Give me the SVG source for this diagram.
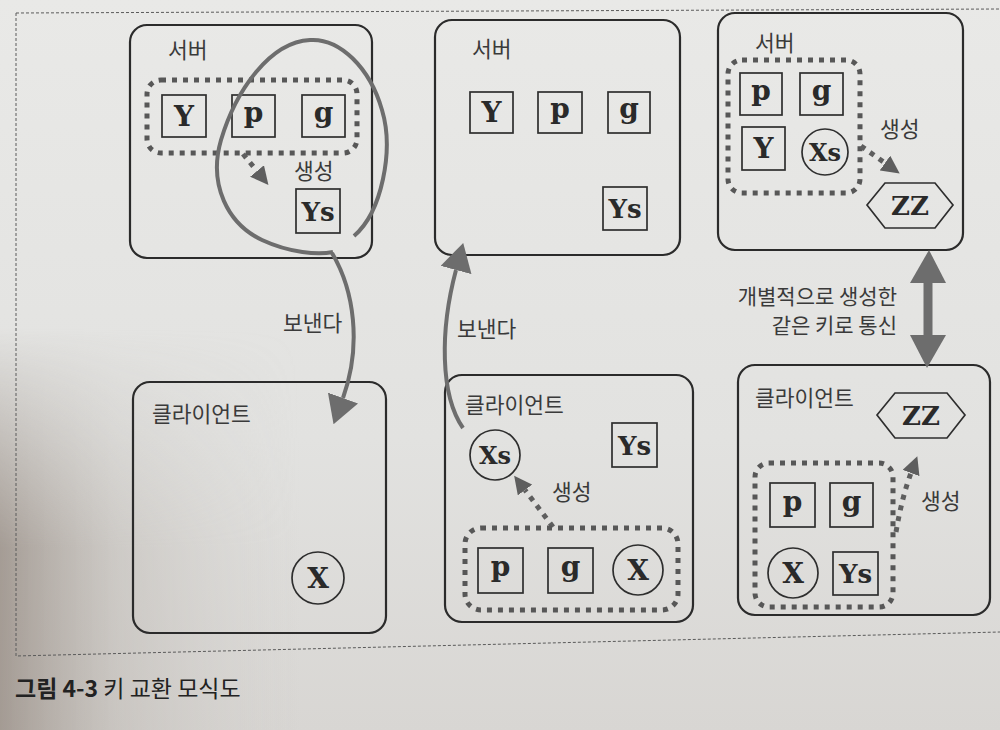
<svg xmlns="http://www.w3.org/2000/svg" width="1000" height="730" viewBox="0 0 1000 730">
<defs>
<linearGradient id="paper" x1="0" y1="0" x2="0" y2="1">
<stop offset="0" stop-color="#e9e9e7"/>
<stop offset="0.6" stop-color="#e2e2e0"/>
<stop offset="1" stop-color="#d8d6d3"/>
</linearGradient>
<linearGradient id="shade" x1="0" y1="0" x2="1" y2="0">
<stop offset="0" stop-color="#9a9088" stop-opacity="0.85"/>
<stop offset="0.12" stop-color="#b0a9a2" stop-opacity="0.35"/>
<stop offset="0.3" stop-color="#c8c4c0" stop-opacity="0"/>
</linearGradient>
<linearGradient id="shadeV" x1="0" y1="0" x2="0" y2="1">
<stop offset="0" stop-color="#fff" stop-opacity="0"/>
<stop offset="0.45" stop-color="#fff" stop-opacity="0"/>
<stop offset="0.75" stop-color="#fff" stop-opacity="1"/>
<stop offset="1" stop-color="#fff" stop-opacity="1"/>
</linearGradient>
<mask id="mV"><rect width="1000" height="730" fill="url(#shadeV)"/></mask>
<marker id="big" viewBox="0 0 10 10" refX="0" refY="5" markerWidth="28" markerHeight="32" markerUnits="userSpaceOnUse" orient="auto" preserveAspectRatio="none">
<path d="M0,0 L10,5 L0,10 z" fill="#6d6d6d"/>
</marker>
<marker id="small" viewBox="0 0 10 10" refX="0" refY="5" markerWidth="18" markerHeight="18" markerUnits="userSpaceOnUse" orient="auto" preserveAspectRatio="none">
<path d="M0,0 L10,5 L0,10 z" fill="#5e5e5e"/>
</marker>
<style>
.panel{fill:none;stroke:#2b2b2b;stroke-width:2.2}
.box{fill:none;stroke:#2e2e2e;stroke-width:1.7}
.dot{fill:none;stroke:#575757;stroke-width:5;stroke-dasharray:5 6}
.darr{fill:none;stroke:#5e5e5e;stroke-width:5;stroke-dasharray:5 6;marker-end:url(#small)}
.send{fill:none;stroke:#6d6d6d;stroke-width:4}
.lbl{font-family:"Noto Sans CJK KR","Noto Sans",sans-serif;font-size:21.5px;fill:#3a3a3a}
.key{font-family:"DejaVu Serif","Liberation Serif",serif;font-weight:bold;font-size:28px;fill:#2a2a2a;text-anchor:middle}
.frame{fill:none;stroke:#5a5a5a;stroke-width:1;stroke-dasharray:3 2}
</style>
</defs>
<rect width="1000" height="730" fill="url(#paper)"/>
<rect width="1000" height="730" fill="url(#shade)" mask="url(#mV)"/>
<path class="frame" d="M16,13 L1000,9 M16,13 L16,656 L1000,632"/>

<g id="server1">
<rect class="panel" x="130" y="25" width="242" height="233" rx="17"/>
<text class="lbl" x="168" y="58">서버</text>
<rect class="dot" x="147" y="80" width="210" height="73" rx="14"/>
<rect class="box" x="162" y="95" width="44" height="42"/>
<text class="key" x="184" y="126">Y</text>
<rect class="box" x="232" y="95" width="43" height="42"/>
<text class="key" x="253.5" y="122">p</text>
<rect class="box" x="302" y="95" width="43" height="42"/>
<text class="key" x="323.5" y="122">g</text>
<path class="darr" d="M243,154 L257,171"/>
<text class="lbl" x="294" y="179">생성</text>
<rect class="box" x="296" y="189" width="44" height="44"/>
<text class="key" x="318" y="221" style="font-size:26px">Ys</text>
</g>

<g id="server2">
<rect class="panel" x="435" y="20" width="245" height="235" rx="17"/>
<text class="lbl" x="472" y="57">서버</text>
<rect class="box" x="470" y="92" width="43" height="41"/>
<text class="key" x="491.5" y="122">Y</text>
<rect class="box" x="538" y="92" width="44" height="41"/>
<text class="key" x="560" y="118">p</text>
<rect class="box" x="608" y="92" width="42" height="41"/>
<text class="key" x="629" y="118">g</text>
<rect class="box" x="603" y="187" width="44" height="43"/>
<text class="key" x="625" y="218" style="font-size:26px">Ys</text>
</g>

<g id="server3">
<rect class="panel" x="718" y="13" width="245" height="237" rx="17"/>
<text class="lbl" x="755" y="51">서버</text>
<rect class="dot" x="728" y="60" width="132" height="133" rx="14"/>
<rect class="box" x="740" y="73" width="42" height="42"/>
<text class="key" x="761" y="100">p</text>
<rect class="box" x="800" y="73" width="43" height="42"/>
<text class="key" x="821.5" y="100">g</text>
<rect class="box" x="742" y="127" width="43" height="43"/>
<text class="key" x="763.5" y="158">Y</text>
<circle class="box" cx="825" cy="152" r="23"/>
<text class="key" x="825" y="161" style="font-size:24px">Xs</text>
<path class="darr" d="M861,146 L885,163"/>
<text class="lbl" x="880" y="137">생성</text>
<polygon class="box" points="867,205 885,183 935,183 953,205 935,228 885,228"/>
<text class="key" x="910" y="215" style="font-size:26px">ZZ</text>
</g>

<g id="client1">
<rect class="panel" x="133" y="382" width="253" height="251" rx="17"/>
<text class="lbl" x="152" y="422">클라이언트</text>
<circle class="box" cx="318" cy="578" r="26"/>
<text class="key" x="318" y="588">X</text>
</g>

<g id="client2">
<rect class="panel" x="445" y="375" width="248" height="247" rx="17"/>
<text class="lbl" x="465" y="413">클라이언트</text>
<circle class="box" cx="495" cy="455" r="25"/>
<text class="key" x="495" y="464" style="font-size:24px">Xs</text>
<rect class="box" x="612" y="423" width="45" height="44"/>
<text class="key" x="634.5" y="455" style="font-size:26px">Ys</text>
<path class="darr" d="M553,527 L525,490"/>
<text class="lbl" x="552" y="500">생성</text>
<rect class="dot" x="465" y="528" width="213" height="82" rx="16"/>
<rect class="box" x="478" y="548" width="45" height="45"/>
<text class="key" x="500.5" y="576">p</text>
<rect class="box" x="548" y="548" width="45" height="45"/>
<text class="key" x="570.5" y="576">g</text>
<circle class="box" cx="638" cy="570" r="25"/>
<text class="key" x="638" y="580">X</text>
</g>

<g id="client3">
<rect class="panel" x="738" y="365" width="252" height="250" rx="17"/>
<text class="lbl" x="755" y="406">클라이언트</text>
<polygon class="box" points="877,415 895,393 947,393 965,415 947,438 895,438"/>
<text class="key" x="921" y="425" style="font-size:26px">ZZ</text>
<rect class="dot" x="755" y="463" width="138" height="144" rx="14"/>
<rect class="box" x="770" y="483" width="45" height="44"/>
<text class="key" x="792.5" y="511">p</text>
<rect class="box" x="830" y="483" width="43" height="44"/>
<text class="key" x="851.5" y="511">g</text>
<circle class="box" cx="793" cy="573" r="25"/>
<text class="key" x="793" y="583">X</text>
<rect class="box" x="833" y="552" width="45" height="43"/>
<text class="key" x="855.5" y="583" style="font-size:26px">Ys</text>
<path class="darr" d="M896,532 Q902,497 911,473"/>
<text class="lbl" x="921" y="509">생성</text>
</g>

<g id="connectors">
<path class="send" d="M354,236 C382,212 394,150 382,110 C370,68 340,38 310,40 C270,42 236,90 221,140 C208,185 228,224 262,240 C290,253 318,255 333,252"/>
<path class="send" d="M332,253 C354,290 362,345 343,398" marker-end="url(#big)"/>
<text class="lbl" x="283" y="331">보낸다</text>
<path class="send" d="M463,428 C440,395 440,330 456,270" marker-end="url(#big)"/>
<text class="lbl" x="457" y="337">보낸다</text>
<line x1="928" y1="280" x2="928" y2="338" stroke="#6d6d6d" stroke-width="9"/>
<polygon points="929,250 946,283 910,283" fill="#6d6d6d"/>
<polygon points="927,368 910,335 946,335" fill="#6d6d6d"/>
<text class="lbl" x="897" y="304" style="font-size:21px" text-anchor="end">개별적으로 생성한</text>
<text class="lbl" x="897" y="333" style="font-size:21px" text-anchor="end">같은 키로 통신</text>
</g>

<g id="caption">
<text x="15" y="697" style="font-family:'Noto Sans CJK KR','Noto Sans',sans-serif;font-size:23px;fill:#222"><tspan font-weight="bold">그림 4-3</tspan> 키 교환 모식도</text>
</g>
</svg>
